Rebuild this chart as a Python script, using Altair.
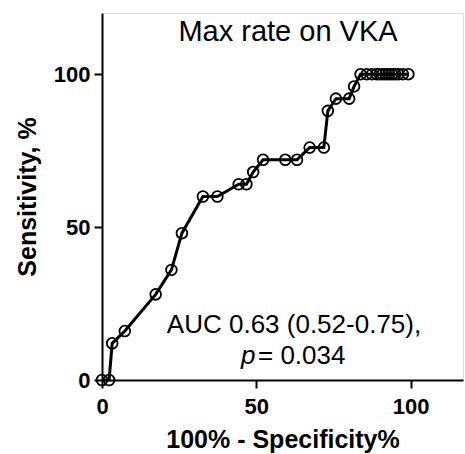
import altair as alt
import pandas as pd

fpr = [0, 2.3, 3.3, 7.4, 17.4, 22.5, 25.9, 32.7, 37.4, 44.3, 46.8, 49.0, 52.2, 59.4, 63.2,
       67.3, 71.9, 73.2, 75.8, 80.1, 81.7, 83.8, 85.8, 87.5, 89.0, 90.0, 91.0, 92.0, 93.0,
       94.0, 95.0, 96.0, 97.5, 99.3]
sens = [0, 0, 12, 16, 28, 36, 48, 60, 60, 64, 64, 68, 72, 72, 72,
        76, 76, 88, 92, 92, 96, 100, 100, 100, 100, 100, 100, 100, 100,
        100, 100, 100, 100, 100]

title_text = "Max rate on VKA"
auc_text = "AUC 0.63 (0.52-0.75),"
p_text = "p"
pval_text = "= 0.034"

df = pd.DataFrame({"fpr": fpr, "sens": sens, "order": list(range(len(fpr)))})

FONT = "Liberation Sans"
W, H = 361, 367

x = alt.X("fpr:Q", scale=alt.Scale(domain=[0, 117], nice=False, zero=False),
          axis=alt.Axis(values=[0, 50, 100], title="100%  - Specificity%", grid=False,
                        domainColor="black", domainWidth=2, tickColor="black", tickWidth=2,
                        tickSize=8, labelFont=FONT, labelFontSize=22, labelFontWeight="bold",
                        labelColor="black", labelPadding=8, titleFont=FONT, titleFontSize=25,
                        titleFontWeight="bold", titleColor="black", titlePadding=10,
                        labelFlush=False))
y = alt.Y("sens:Q", scale=alt.Scale(domain=[0, 120], nice=False),
          axis=alt.Axis(values=[0, 50, 100], title="Sensitivity, %", grid=False,
                        domainColor="black", domainWidth=2, tickColor="black", tickWidth=2,
                        tickSize=8, labelFont=FONT, labelFontSize=22, labelFontWeight="bold",
                        labelColor="black", labelPadding=4, titleFont=FONT, titleFontSize=25,
                        titleFontWeight="bold", titleColor="black", titlePadding=13,
                        labelFlush=False))

line = alt.Chart(df).mark_line(color="black", strokeWidth=3, clip=False).encode(
    x=x, y=y, order="order:Q")
pts = alt.Chart(df).mark_point(shape="circle", filled=False, color="black", size=115,
                               strokeWidth=1.8, opacity=1, clip=False).encode(x=x, y=y)

def txt(s, px, py, size, style="normal", weight="normal", align="center"):
    return alt.Chart(pd.DataFrame({"t": [s]})).mark_text(
        font=FONT, fontSize=size, fontStyle=style, fontWeight=weight, color="black",
        align=align, baseline="alphabetic").encode(
        text="t:N", x=alt.value(px), y=alt.value(py))

title = txt(title_text, 186, 28, 29)
auc = txt(auc_text, 192, 320, 26)
p1 = txt(p_text, 139, 351, 26, style="italic", align="left")
p2 = txt(pval_text, 156, 351, 26, align="left")

chart = alt.layer(line, pts, title, auc, p1, p2).properties(
    width=W, height=H, padding={"left": 102, "top": 13, "right": 2, "bottom": 74},
    autosize=alt.AutoSizeParams(type="none"),
).configure_view(stroke=None).configure(background="white")

chart.save("out.html", embed_options={"renderer": "svg", "actions": False})
